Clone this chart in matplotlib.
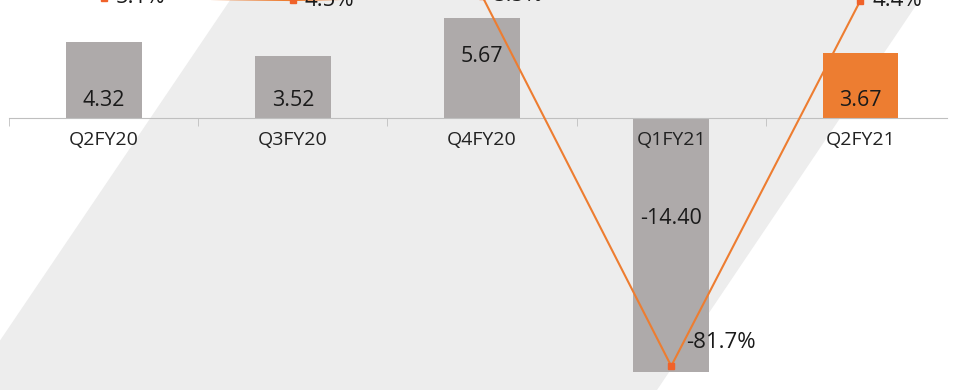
import matplotlib.pyplot as plt
from matplotlib.patches import Polygon

plt.rcParams['font.family'] = ['Open Sans', 'DejaVu Sans']

quarters = ['Q2FY20', 'Q3FY20', 'Q4FY20', 'Q1FY21', 'Q2FY21']
values = [4.32, 3.52, 5.67, -14.40, 3.67]
value_labels = ['4.32', '3.52', '5.67', '-14.40', '3.67']
growth = [5.1, 4.5, 5.5, -81.7, 4.4]
growth_labels = ['5.1%', '4.5%', '5.5%', '-81.7%', '4.4%']
# height of the value text inside each bar (bar units)
label_pos = [1.0, 1.0, 3.5, -5.7, 1.0]

grey = '#AEAAAA'
orange = '#ED7D31'
colors = [grey] * (len(values) - 1) + [orange]

fig = plt.figure(figsize=(9.55, 3.9), dpi=100)
ax = fig.add_axes([0, 0, 1, 1])

# slanted light band behind the chart
band = Polygon([(0.241, 1), (0.963, 1), (0.688, 0), (-0.035, 0)], closed=True,
               transform=ax.transAxes, facecolor='#EDEDED', edgecolor='none', zorder=0)
ax.add_patch(band)

x = list(range(len(quarters)))
ax.bar(x, values, width=0.4, color=colors, zorder=1)
for i, lbl in enumerate(value_labels):
    ax.text(i, label_pos[i], lbl, ha='center', va='center', fontsize=15.5, color='#1a1a1a', zorder=3)

ax.set_xlim(-0.548, 4.46)
ax.set_ylim(-15.45, 6.705)
for s in ['left', 'right', 'top']:
    ax.spines[s].set_visible(False)
ax.spines['bottom'].set_position(('data', 0))
ax.spines['bottom'].set_color('#BFBFBF')
ax.spines['bottom'].set_bounds(-0.5, 4.46)
ax.set_yticks([])
ax.set_xticks(x, quarters)
ax.set_xticks([i - 0.5 for i in range(len(quarters) + 1)], minor=True)
ax.tick_params(axis='x', which='major', length=0, pad=9, labelsize=14, labelcolor='#222222')
ax.tick_params(axis='x', which='minor', length=6, color='#BFBFBF', direction='out')
ax.set_axisbelow(False)

ax2 = ax.twinx()
ax2.set_ylim(-87.35, 4.52)
ax2.plot(x, growth, color=orange, lw=1.5, marker='s', ms=4,
         mfc='#F0622A', mec='#F0622A', clip_on=False)
for i, lbl in enumerate(growth_labels):
    off = (11, 17) if growth[i] < 0 else (8.5, 0)
    ax2.annotate(lbl, (i, growth[i]), xytext=off, textcoords='offset points',
                 ha='left', va='center', fontsize=16, color='#1a1a1a', annotation_clip=False)
ax2.axis('off')

fig.savefig('out.png', dpi=100)
